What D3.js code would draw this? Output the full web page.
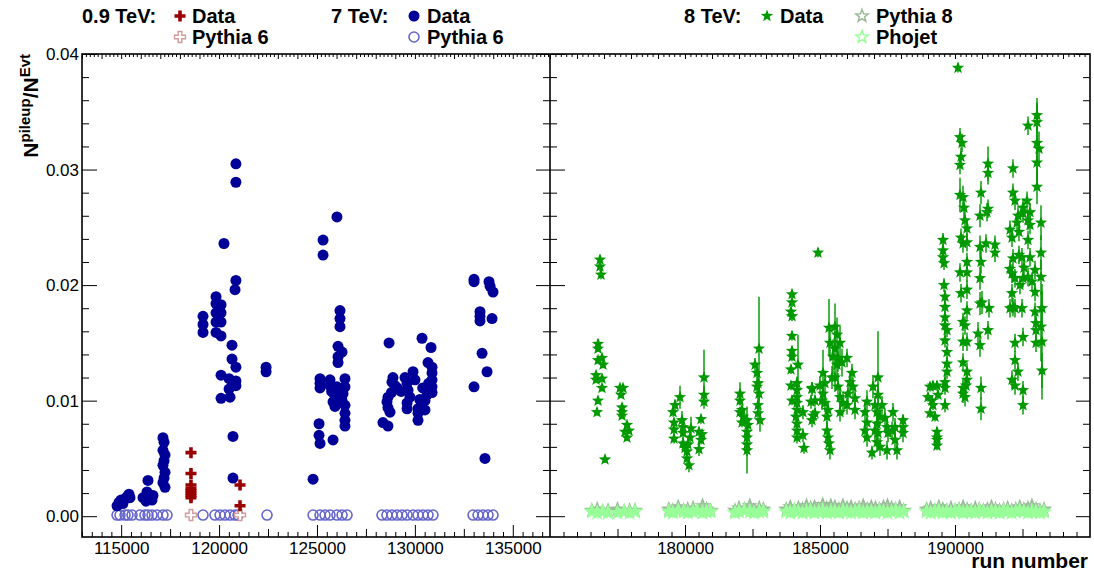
<!DOCTYPE html>
<html><head><meta charset="utf-8">
<script src="https://cdn.jsdelivr.net/npm/d3@7"></script>
<style>
body{margin:0;background:#fff}
text{font-family:"Liberation Sans",Arial,Helvetica,sans-serif}
</style>
</head><body>
<svg id="c" width="1094" height="572"></svg>
<script>
// ---------- DATA ----------
const yTickVals = [0, 0.01, 0.02, 0.03, 0.04];
const yTickLabels = ["0.00", "0.01", "0.02", "0.03", "0.04"];
const xTickValsL = [115000, 120000, 125000, 130000, 135000];
const xTickValsR = [180000, 185000, 190000];

// 0.9 TeV data
const runs09 = [118565,118565,118565,118565,118565,118565,118565,118565,121070,121070];
const vals09 = [0.0055,0.0037,0.0027,0.0024,0.0022,0.0020,0.0018,0.0016,0.0027,0.0009];
// 0.9 TeV Pythia 6
const runs09mc = [118565,121070];
const vals09mc = [0.0001,0.0001];

// 7 TeV data
const runs7 = [
114790,114890,114990,115090,115200,115300,115400,115450,
116115,116320,116370,116470,116575,116625,116270,
117135,117190,117135,117240,117190,117135,117240,117190,117135,117240,
119180,119180,119180,119845,119845,119845,119845,119845,120100,120100,120100,120100,120250,120660,120660,120860,120100,120510,120860,120860,120510,120100,120560,120860,120860,120860,120815,120710,120710,122400,122400,
126020,125310,125310,126175,126175,126175,126075,126280,126075,126075,125155,125155,125155,125665,125665,126020,126430,126430,126330,125820,126280,126430,125920,126430,126430,126430,125105,125105,125820,124800,125155,125900,125750,125990,
128680,128880,128830,128985,128625,128575,128625,128730,128370,128625,129495,129600,129650,129750,129600,129600,129905,130005,130365,130825,130670,130875,130875,130875,130875,130875,130620,130515,130365,130515,130160,130160,130160,128800,129100,130400,130700,130250,129300,
133020,133020,133785,133840,133990,133325,133325,133325,133940,133430,133685,133020,133580];
const vals7 = [
0.0009,0.0012,0.0014,0.0011,0.0015,0.0017,0.0019,0.0016,
0.0016,0.0021,0.0031,0.0018,0.0014,0.0018,0.0013,
0.0068,0.0064,0.0057,0.0053,0.0048,0.0044,0.0038,0.0033,0.0029,0.0025,
0.0173,0.0166,0.0159,0.0190,0.0184,0.0176,0.0168,0.0159,0.0183,0.0176,0.0168,0.0156,0.0236,0.0148,0.0136,0.0129,0.0122,0.0119,0.0117,0.0113,0.0110,0.0102,0.0103,0.0305,0.0289,0.0204,0.0196,0.0069,0.0033,0.0129,0.0125,
0.0259,0.0239,0.0226,0.0178,0.0171,0.0164,0.0147,0.0142,0.0138,0.0133,0.0119,0.0115,0.0111,0.0118,0.0113,0.0112,0.0119,0.0112,0.0106,0.0099,0.0100,0.0096,0.0095,0.0089,0.0083,0.0078,0.0080,0.0070,0.0066,0.0032,0.0063,0.0105,0.0108,0.0101,
0.0150,0.0120,0.0116,0.0113,0.0103,0.0099,0.0094,0.0090,0.0081,0.0078,0.0120,0.0115,0.0109,0.0103,0.0098,0.0093,0.0125,0.0118,0.0154,0.0146,0.0133,0.0129,0.0124,0.0118,0.0112,0.0107,0.0105,0.0100,0.0098,0.0092,0.0093,0.0089,0.0083,0.0107,0.0111,0.0111,0.0115,0.0101,0.0108,
0.0205,0.0203,0.0203,0.0199,0.0194,0.0177,0.0173,0.0169,0.0171,0.0141,0.0125,0.0112,0.0050];

// 7 TeV Pythia 6
const runs7mc = [114790,114940,115200,115350,115555,115960,116215,116370,116575,116830,117135,117340,119180,119790,120050,120300,120560,120815,120970,122450,124800,125155,125410,125665,126020,126280,126535,128320,128575,128830,129090,129340,129600,129905,130160,130415,130670,130925,132970,133225,133480,133735,133990];
const vals7mc = [0.0001,0.0001,0.0001,0.0001,0.0001,0.0001,0.0001,0.0001,0.0001,0.0001,0.0001,0.0001,0.0001,0.0001,0.0001,0.0001,0.0001,0.0001,0.0001,0.0001,0.0001,0.0001,0.0001,0.0001,0.0001,0.0001,0.0001,0.0001,0.0001,0.0001,0.0001,0.0001,0.0001,0.0001,0.0001,0.0001,0.0001,0.0001,0.0001,0.0001,0.0001,0.0001,0.0001];

// 8 TeV data: [run, value, error]
const data8 = [
[176852,0.0222,0.0004],[176852,0.0216,0.0004],[176889,0.0209,0.0004],[176778,0.0149,0.0004],[176778,0.0145,0.0003],[176778,0.0135,0.0003],[176926,0.0137,0.0003],[176963,0.0131,0.0003],[176704,0.0122,0.0003],[176704,0.0118,0.0003],[176926,0.0119,0.0003],[176926,0.0111,0.0003],[176778,0.0100,0.0003],[176741,0.0090,0.0003],[177037,0.0049,0.0003],
[177593,0.0111,0.0003],[177704,0.0111,0.0003],[177630,0.0105,0.0003],[177667,0.0094,0.0003],[177667,0.0090,0.0003],[177667,0.0087,0.0003],[177852,0.0079,0.0003],[177926,0.0074,0.0003],[177852,0.0068,0.0003],[177778,0.0073,0.0003],
[179630,0.0096,0.0005],[179815,0.0103,0.0010],[179556,0.0090,0.0004],[179593,0.0081,0.0004],[179593,0.0075,0.0004],[179593,0.0067,0.0004],[179889,0.0083,0.0008],[179926,0.0077,0.0006],[179926,0.0072,0.0005],[179926,0.0063,0.0005],[180000,0.0059,0.0005],[180074,0.0056,0.0008],[180074,0.0050,0.0006],[180148,0.0044,0.0006],[180222,0.0076,0.0010],[180185,0.0068,0.0006],[180111,0.0062,0.0005],[180593,0.0084,0.0004],[180519,0.0073,0.0004],[180630,0.0071,0.0004],[180593,0.0066,0.0004],[180519,0.0058,0.0006],[180704,0.0120,0.0024],[180704,0.0105,0.0008],[180704,0.0099,0.0006],
[182037,0.0106,0.0010],[182037,0.0100,0.0004],[182111,0.0092,0.0004],[182037,0.0090,0.0004],[182148,0.0086,0.0005],[182296,0.0083,0.0012],[182333,0.0079,0.0006],[182296,0.0073,0.0006],[182296,0.0068,0.0008],[182296,0.0062,0.0010],[182296,0.0057,0.0020],[182111,0.0081,0.0004],[182593,0.0131,0.0006],[182667,0.0124,0.0008],[182704,0.0115,0.0010],[182667,0.0112,0.0006],[182741,0.0106,0.0008],[182704,0.0096,0.0008],[182704,0.0089,0.0008],[182778,0.0083,0.0010],[182741,0.0145,0.0045],
[183963,0.0192,0.0004],[183963,0.0185,0.0004],[183926,0.0177,0.0004],[183963,0.0173,0.0004],[183963,0.0156,0.0004],[183963,0.0143,0.0004],[183963,0.0138,0.0004],[183926,0.0127,0.0004],[183926,0.0113,0.0004],[183963,0.0100,0.0004],[184148,0.0115,0.0006],[184148,0.0109,0.0006],[184148,0.0103,0.0005],[184148,0.0098,0.0005],[184148,0.0092,0.0005],[184111,0.0086,0.0005],[184148,0.0080,0.0005],[184148,0.0074,0.0005],[184148,0.0068,0.0005],[184185,0.0131,0.0026],[184370,0.0090,0.0006],[184370,0.0070,0.0006],[184407,0.0059,0.0005],[184704,0.0110,0.0006],[184667,0.0099,0.0006],[184704,0.0083,0.0006],[184815,0.0100,0.0005],[184815,0.0089,0.0005],[184926,0.0228,0.0004],[184741,0.0087,0.0005],[184704,0.0111,0.0005],
[185111,0.0124,0.0020],[185185,0.0115,0.0010],[185111,0.0106,0.0010],[185074,0.0100,0.0008],[185185,0.0098,0.0008],[185296,0.0092,0.0008],[185259,0.0086,0.0008],[185259,0.0074,0.0008],[185296,0.0068,0.0008],[185333,0.0063,0.0008],[185370,0.0057,0.0008],[185333,0.0163,0.0025],[185556,0.0164,0.0020],[185630,0.0157,0.0015],[185370,0.0150,0.0015],[185556,0.0145,0.0015],[185741,0.0150,0.0015],[185667,0.0137,0.0012],[185815,0.0133,0.0012],[185630,0.0131,0.0012],[185556,0.0120,0.0012],[185667,0.0112,0.0012],[185741,0.0103,0.0010],[185852,0.0098,0.0010],[186000,0.0137,0.0008],[186185,0.0124,0.0008],[186111,0.0116,0.0008],[186222,0.0112,0.0008],[186037,0.0106,0.0008],[186296,0.0102,0.0008],[186000,0.0096,0.0008],[186296,0.0092,0.0008],[185741,0.0090,0.0008],[185000,0.0113,0.0008],[185444,0.0120,0.0010],[185481,0.0138,0.0015],
[186741,0.0099,0.0010],[186667,0.0090,0.0008],[186741,0.0081,0.0008],[186667,0.0074,0.0008],[186741,0.0068,0.0008],[186963,0.0112,0.0010],[187037,0.0096,0.0008],[187111,0.0090,0.0008],[187148,0.0105,0.0010],[187222,0.0086,0.0008],[187111,0.0080,0.0008],[187037,0.0074,0.0008],[187148,0.0072,0.0008],[187111,0.0064,0.0008],[186926,0.0055,0.0006],[187222,0.0060,0.0008],[187407,0.0085,0.0008],[187481,0.0077,0.0008],[187519,0.0072,0.0008],[187481,0.0057,0.0008],[187704,0.0090,0.0008],[187778,0.0077,0.0008],[187778,0.0066,0.0008],[187667,0.0074,0.0008],[187852,0.0057,0.0008],[188074,0.0077,0.0008],[188074,0.0072,0.0008],[187296,0.0096,0.0008],[187148,0.0120,0.0040],[188074,0.0083,0.0005],
[189074,0.0112,0.0004],[189185,0.0113,0.0004],[189000,0.0103,0.0004],[189148,0.0100,0.0004],[189185,0.0096,0.0004],[189074,0.0089,0.0004],[189259,0.0086,0.0004],[189370,0.0105,0.0004],[189333,0.0073,0.0004],[189333,0.0068,0.0004],[189333,0.0066,0.0004],[189333,0.0061,0.0004],[189333,0.0113,0.0004],[189556,0.0239,0.0006],[189556,0.0230,0.0006],[189556,0.0224,0.0006],[189593,0.0219,0.0006],[189593,0.0200,0.0006],[189630,0.0190,0.0006],[189630,0.0181,0.0006],[189630,0.0172,0.0006],[189630,0.0165,0.0006],[189704,0.0161,0.0006],[189630,0.0152,0.0006],[189704,0.0142,0.0006],[189704,0.0132,0.0006],[189704,0.0125,0.0006],[189630,0.0116,0.0006],[189630,0.0111,0.0006],[189630,0.0096,0.0006],
[190111,0.0388,0.0004],[190185,0.0328,0.0008],[190259,0.0323,0.0008],[190222,0.0311,0.0008],[190185,0.0304,0.0008],[190185,0.0278,0.0015],[190296,0.0276,0.0010],[190333,0.0267,0.0010],[190370,0.0256,0.0008],[190444,0.0249,0.0008],[190222,0.0241,0.0008],[190296,0.0236,0.0008],[190444,0.0237,0.0008],[190444,0.0220,0.0008],[190185,0.0211,0.0008],[190444,0.0211,0.0008],[190222,0.0193,0.0008],[190444,0.0196,0.0008],[190444,0.0178,0.0008],[190296,0.0168,0.0008],[190370,0.0165,0.0008],[190296,0.0151,0.0008],[190444,0.0151,0.0008],[190296,0.0133,0.0008],[190444,0.0125,0.0008],[190444,0.0118,0.0008],[190407,0.0113,0.0008],[190296,0.0111,0.0008],[190296,0.0106,0.0008],[190370,0.0103,0.0008],
[190963,0.0280,0.0010],[190926,0.0260,0.0010],[190926,0.0233,0.0010],[190963,0.0220,0.0010],[190926,0.0206,0.0010],[190926,0.0184,0.0010],[191000,0.0185,0.0010],[190852,0.0158,0.0010],[190926,0.0148,0.0010],[190963,0.0111,0.0010],[190963,0.0093,0.0010],[191222,0.0305,0.0015],[191222,0.0297,0.0010],[191222,0.0266,0.0008],[191185,0.0263,0.0008],[191148,0.0236,0.0008],[191259,0.0180,0.0008],[191222,0.0161,0.0008],[191481,0.0235,0.0008],[191481,0.0228,0.0008],
[192148,0.0301,0.0008],[192148,0.0280,0.0008],[192222,0.0273,0.0008],[192037,0.0248,0.0008],[192111,0.0241,0.0008],[192296,0.0254,0.0008],[192333,0.0260,0.0008],[192148,0.0223,0.0008],[192037,0.0214,0.0008],[192111,0.0210,0.0008],[192222,0.0206,0.0008],[192111,0.0193,0.0008],[192148,0.0181,0.0008],[192037,0.0180,0.0008],[192222,0.0180,0.0008],[192222,0.0150,0.0008],[192222,0.0135,0.0008],[192111,0.0118,0.0008],[192222,0.0113,0.0008],[192370,0.0246,0.0008],[192519,0.0262,0.0008],[192519,0.0267,0.0008],[192370,0.0226,0.0008],[192481,0.0224,0.0008],[192556,0.0215,0.0008],[192519,0.0206,0.0008],[192407,0.0200,0.0008],[192481,0.0180,0.0008],[192333,0.0125,0.0008],[192519,0.0109,0.0008],[192519,0.0096,0.0008],[192519,0.0155,0.0008],[192704,0.0338,0.0008],[192667,0.0273,0.0008],[192778,0.0263,0.0008],[192704,0.0256,0.0008],[192778,0.0252,0.0008],[192704,0.0239,0.0008],[192778,0.0224,0.0008],[192852,0.0203,0.0008],[192704,0.0207,0.0008],[192963,0.0213,0.0008],[192963,0.0194,0.0008],[192963,0.0177,0.0008],[193000,0.0167,0.0008],[193000,0.0161,0.0008],[193000,0.0150,0.0008],[193037,0.0347,0.0015],[193037,0.0341,0.0015],[193037,0.0323,0.0035],[193111,0.0318,0.0015],[193037,0.0306,0.0015],[193037,0.0285,0.0015],[193185,0.0254,0.0015],[193185,0.0228,0.0015],[193185,0.0207,0.0015],[193222,0.0180,0.0015],[193185,0.0164,0.0030],[193222,0.0151,0.0050],[193222,0.0126,0.0015]
];

// 8 TeV MC runs
const runs8mc = [176550,176750,176950,177150,
177500,177750,177950,178150,
179400,179550,179750,179950,180100,180300,180450,180650,180800,180950,
181850,182000,182200,182400,182550,182750,182900,
183750,183900,184050,184200,184350,184500,184650,184800,184950,185100,185250,185400,185550,185700,185850,186000,186150,186300,186450,186600,186750,186900,187050,187200,187350,187500,187650,187800,187950,188100,
188950,189100,189250,189400,189550,189700,189850,190000,190150,190300,190450,190600,190750,190900,191050,191200,191350,191500,191650,191800,191950,192100,192250,192400,192550,192700,192850,193000,193150,193300];
const valsPythia8 = [0.0005,0.0006,0.0004,0.0005,
0.0006,0.0004,0.0005,0.0005,
0.0006,0.0005,0.0008,0.0005,0.0006,0.0007,0.0005,0.0009,0.0006,0.0005,
0.0005,0.0007,0.0006,0.0009,0.0005,0.0007,0.0006,
0.0006,0.0008,0.0005,0.0007,0.0006,0.0009,0.0007,0.0008,0.0006,0.0010,0.0007,0.0009,0.0008,0.0006,0.0009,0.0007,0.0008,0.0006,0.0007,0.0009,0.0006,0.0008,0.0007,0.0006,0.0008,0.0009,0.0007,0.0006,0.0008,0.0005,
0.0006,0.0007,0.0005,0.0008,0.0006,0.0005,0.0007,0.0005,0.0006,0.0008,0.0006,0.0005,0.0007,0.0006,0.0005,0.0006,0.0008,0.0006,0.0005,0.0006,0.0007,0.0005,0.0006,0.0008,0.0006,0.0007,0.0009,0.0006,0.0005,0.0006];
const valsPhojet = [0.0004,0.0003,0.0004,0.0003,
0.0003,0.0004,0.0003,0.0004,
0.0004,0.0003,0.0005,0.0004,0.0003,0.0004,0.0005,0.0003,0.0004,0.0004,
0.0003,0.0004,0.0005,0.0004,0.0003,0.0004,0.0004,
0.0004,0.0003,0.0005,0.0004,0.0003,0.0004,0.0005,0.0003,0.0004,0.0005,0.0003,0.0004,0.0004,0.0003,0.0005,0.0004,0.0003,0.0004,0.0005,0.0003,0.0004,0.0004,0.0003,0.0005,0.0004,0.0003,0.0004,0.0005,0.0003,0.0004,
0.0004,0.0003,0.0004,0.0005,0.0003,0.0004,0.0003,0.0004,0.0005,0.0003,0.0004,0.0004,0.0003,0.0005,0.0004,0.0003,0.0004,0.0004,0.0003,0.0005,0.0004,0.0003,0.0004,0.0005,0.0004,0.0003,0.0004,0.0004,0.0003,0.0004];

// ---------- LAYOUT ----------
const svg = d3.select("#c");
const T = 54, B = 537, L0 = 82, MID = 550, R1 = 1090;
const y = d3.scaleLinear().domain([-0.0018, 0.04]).range([B, T]);
const xL = d3.scaleLinear().domain([113000, 136900]).range([L0, MID]);
const xR = d3.scaleLinear().domain([175000, 195000]).range([MID, R1]);

const C = {
  red: "#990000", pink: "#d49a9a",
  blue: "#000099", lblue: "#6666cc",
  green: "#009900", p8: "#99bb99", phojet: "#99ff99"
};

function starPath(R) {
  const r = R * 0.42; let p = [];
  for (let i = 0; i < 10; i++) {
    const a = -Math.PI / 2 + i * Math.PI / 5, rr = i % 2 ? r : R;
    p.push([rr * Math.cos(a), rr * Math.sin(a)]);
  }
  return "M" + p.map(d => d[0].toFixed(2) + "," + d[1].toFixed(2)).join("L") + "Z";
}
function crossPath(h, w) {
  const a = w / 2;
  return `M${-a},${-h}L${a},${-h}L${a},${-a}L${h},${-a}L${h},${a}L${a},${a}L${a},${h}L${-a},${h}L${-a},${a}L${-h},${a}L${-h},${-a}L${-a},${-a}Z`;
}
const STAR = starPath(6.5);
const CROSS = crossPath(5.5, 3.6);

function styleAxis(g) {
  g.select(".domain").remove();
  g.selectAll(".tick line").attr("stroke", "#000").attr("stroke-width", 1);
  g.selectAll(".tick text").attr("fill", "#000").attr("font-size", 17)
    .attr("font-family", '"Liberation Sans",Arial,sans-serif');
}

// ---- axes ticks ----
const yMinor = d3.range(0.002, 0.0401, 0.002).filter(v => Math.abs(v / 0.01 - Math.round(v / 0.01)) > 1e-6);

function panelTicks(x, xMajor, leftAxis) {
  const [d0, d1] = x.domain();
  const all500 = d3.range(Math.ceil(d0 / 500) * 500, d1, 500);
  const minor = all500.filter(v => v % 2500 !== 0);
  const mid = all500.filter(v => v % 2500 === 0 && v % 5000 !== 0);
  svg.append("g").attr("transform", `translate(0,${B})`)
    .call(d3.axisBottom(x).tickValues(minor).tickSize(-5).tickFormat("")).call(styleAxis);
  svg.append("g").attr("transform", `translate(0,${B})`)
    .call(d3.axisBottom(x).tickValues(mid).tickSize(-8).tickFormat("")).call(styleAxis);
  svg.append("g").attr("transform", `translate(0,${B})`)
    .call(d3.axisBottom(x).tickValues(xMajor).tickSize(-12).tickPadding(5).tickFormat(d3.format("d"))).call(styleAxis);
  const all200 = d3.range(Math.ceil(d0 / 200) * 200, d1, 200);
  svg.append("g").attr("transform", `translate(0,${T})`)
    .call(d3.axisTop(x).tickValues(all200.filter(v => v % 1000 !== 0)).tickSize(-3).tickFormat("")).call(styleAxis);
  svg.append("g").attr("transform", `translate(0,${T})`)
    .call(d3.axisTop(x).tickValues(all200.filter(v => v % 1000 === 0)).tickSize(-5).tickFormat("")).call(styleAxis);
  const xl = x.range()[0], xr = x.range()[1];
  svg.append("g").attr("transform", `translate(${xl},0)`)
    .call(d3.axisLeft(y).tickValues(yMinor).tickSize(-7).tickFormat("")).call(styleAxis);
  svg.append("g").attr("transform", `translate(${xl},0)`)
    .call(d3.axisLeft(y).tickValues(yTickVals).tickSize(-15).tickPadding(3)
      .tickFormat((d, i) => leftAxis ? yTickLabels[i] : "")).call(styleAxis);
  svg.append("g").attr("transform", `translate(${xr},0)`)
    .call(d3.axisRight(y).tickValues(yMinor).tickSize(-7).tickFormat("")).call(styleAxis);
  svg.append("g").attr("transform", `translate(${xr},0)`)
    .call(d3.axisRight(y).tickValues(yTickVals).tickSize(-14).tickFormat("")).call(styleAxis);
}

// ---- marks: left panel ----
const gl = svg.append("g");
gl.selectAll(".p6").data(runs7mc).join("circle")
  .attr("cx", d => xL(d)).attr("cy", (d, i) => y(vals7mc[i])).attr("r", 5)
  .attr("fill", "none").attr("stroke", C.lblue).attr("stroke-width", 1.6);
gl.selectAll(".p09mc").data(runs09mc).join("path")
  .attr("d", CROSS).attr("transform", (d, i) => `translate(${xL(d)},${y(vals09mc[i])})`)
  .attr("fill", "#fff").attr("stroke", C.pink).attr("stroke-width", 1.4);
gl.selectAll(".d7").data(runs7).join("circle")
  .attr("cx", d => xL(d)).attr("cy", (d, i) => y(vals7[i])).attr("r", 5.5)
  .attr("fill", C.blue);
gl.selectAll(".d09").data(runs09).join("path")
  .attr("d", CROSS).attr("transform", (d, i) => `translate(${xL(d)},${y(vals09[i])})`)
  .attr("fill", C.red);

// ---- marks: right panel ----
const gr = svg.append("g");
gr.selectAll(".py8").data(runs8mc).join("path")
  .attr("d", STAR).attr("transform", (d, i) => `translate(${xR(d)},${y(valsPythia8[i])})`)
  .attr("fill", "#aaccaa").attr("stroke", C.p8).attr("stroke-width", 1.4);
gr.selectAll(".pho").data(runs8mc).join("path")
  .attr("d", STAR).attr("transform", (d, i) => `translate(${xR(d)},${y(valsPhojet[i])})`)
  .attr("fill", C.phojet).attr("stroke", C.phojet).attr("stroke-width", 1.6);
gr.selectAll(".err").data(data8).join("line")
  .attr("x1", d => xR(d[0])).attr("x2", d => xR(d[0]))
  .attr("y1", d => y(d[1] - d[2])).attr("y2", d => y(d[1] + d[2]))
  .attr("stroke", C.green).attr("stroke-width", 1.8).attr("stroke-opacity", 0.8);
gr.selectAll(".d8").data(data8).join("path")
  .attr("d", STAR).attr("transform", d => `translate(${xR(d[0])},${y(d[1])})`)
  .attr("fill", C.green);

// ---- axes & frame ----
panelTicks(xL, xTickValsL, true);
panelTicks(xR, xTickValsR, false);
svg.append("rect").attr("x", L0).attr("y", T).attr("width", R1 - L0).attr("height", B - T)
  .attr("fill", "none").attr("stroke", "#000").attr("stroke-width", 1.6);
svg.append("line").attr("x1", MID).attr("x2", MID).attr("y1", T).attr("y2", B)
  .attr("stroke", "#000").attr("stroke-width", 1.6);

// ---- titles ----
const yt = svg.append("text").attr("transform", `translate(38,${T}) rotate(-90)`)
  .attr("text-anchor", "end").attr("font-weight", "bold").attr("font-size", 21);
yt.append("tspan").text("N");
yt.append("tspan").attr("dy", -8).attr("font-size", 15).text("pileup");
yt.append("tspan").attr("dy", 8).text("/N");
yt.append("tspan").attr("dy", -8).attr("font-size", 15).text("Evt");

svg.append("text").attr("x", 1088).attr("y", 568).attr("text-anchor", "end")
  .attr("font-weight", "bold").attr("font-size", 21).text("run number");

// ---- legend ----
const lg = svg.append("g").attr("font-weight", "bold").attr("font-size", 20);
const r1 = 23, r2 = 44;
function ltext(x, yy, s) { lg.append("text").attr("x", x).attr("y", yy).text(s); }
ltext(82, r1, "0.9 TeV:");
lg.append("path").attr("d", CROSS).attr("transform", `translate(180,${r1 - 7})`).attr("fill", C.red);
ltext(192, r1, "Data");
lg.append("path").attr("d", CROSS).attr("transform", `translate(180,${r2 - 7})`).attr("fill", "#fff").attr("stroke", C.pink).attr("stroke-width", 1.4);
ltext(192, r2, "Pythia 6");

ltext(331, r1, "7 TeV:");
lg.append("circle").attr("cx", 414).attr("cy", r1 - 7).attr("r", 5.5).attr("fill", C.blue);
ltext(427, r1, "Data");
lg.append("circle").attr("cx", 414).attr("cy", r2 - 7).attr("r", 5).attr("fill", "none").attr("stroke", C.lblue).attr("stroke-width", 1.6);
ltext(427, r2, "Pythia 6");

ltext(684, r1, "8 TeV:");
lg.append("path").attr("d", STAR).attr("transform", `translate(767,${r1 - 7})`).attr("fill", C.green);
ltext(780, r1, "Data");
lg.append("path").attr("d", STAR).attr("transform", `translate(862,${r1 - 7})`).attr("fill", "none").attr("stroke", C.p8).attr("stroke-width", 1.5);
ltext(876, r1, "Pythia 8");
lg.append("path").attr("d", STAR).attr("transform", `translate(862,${r2 - 7})`).attr("fill", "none").attr("stroke", C.phojet).attr("stroke-width", 1.5);
ltext(876, r2, "Phojet");
</script>
</body></html>
